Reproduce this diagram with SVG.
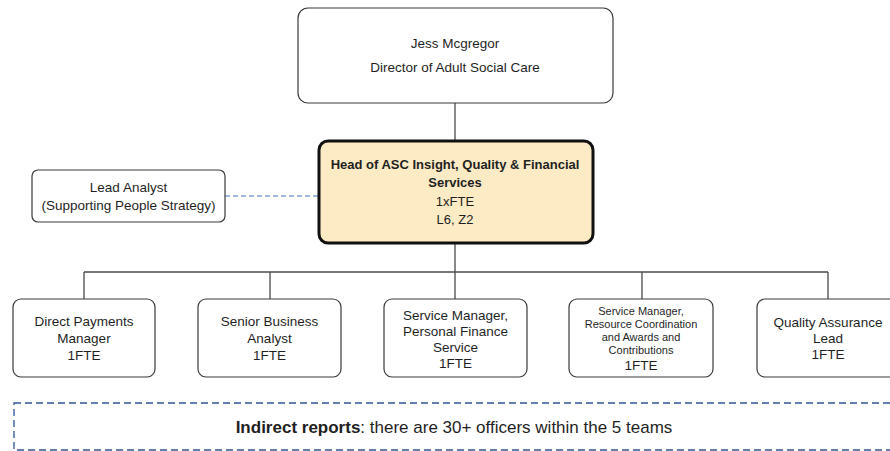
<svg xmlns="http://www.w3.org/2000/svg" width="890" height="451" viewBox="0 0 890 451">
  <style>
    .box { fill: #ffffff; stroke: #3a3a3a; stroke-width: 1.2; }
    .head { fill: #fdebc6; stroke: #111111; stroke-width: 3; }
    .t { font-family: "Liberation Sans", Arial, sans-serif; font-size: 13.5px; fill: #1f1f1f; text-anchor: middle; }
    .b { font-weight: bold; }
    .s { font-size: 11px; }
    .m { font-size: 13px; }
    .l { font-size: 17px; }
    .link { stroke: #4a4a4a; stroke-width: 1.3; fill: none; }
    .dotted { stroke: #4472c4; stroke-width: 1.2; stroke-dasharray: 5 3; fill: none; }
    .frame { fill: none; stroke: #2f5597; stroke-width: 1.3; stroke-dasharray: 7 4; }
  </style>

  <!-- reporting lines -->
  <g id="connectors">
    <path class="link" d="M455 103 V141"/>
    <path class="link" d="M455 243 V272"/>
    <path class="link" d="M84 272 H828"/>
    <path class="link" d="M84 272 V299"/>
    <path class="link" d="M270 272 V299"/>
    <path class="link" d="M455 272 V299"/>
    <path class="link" d="M642 272 V299"/>
    <path class="link" d="M828 272 V299"/>
    <path class="dotted" d="M225 196 H318"/>
  </g>

  <g id="director">
    <rect class="box" x="298" y="8" width="315" height="95" rx="10"/>
    <text class="t" x="455" y="48">Jess Mcgregor</text>
    <text class="t" x="455" y="72">Director of Adult Social Care</text>
  </g>

  <g id="head">
    <rect class="head" x="319" y="141" width="274" height="102" rx="9"/>
    <text class="t b m" x="455" y="169">Head of ASC Insight, Quality &amp; Financial</text>
    <text class="t b m" x="455" y="187">Services</text>
    <text class="t m" x="455" y="206">1xFTE</text>
    <text class="t m" x="455" y="224">L6, Z2</text>
  </g>

  <g id="lead-analyst">
    <rect class="box" x="32" y="170" width="193" height="52" rx="6"/>
    <text class="t" x="128.5" y="192">Lead Analyst</text>
    <text class="t" x="128.5" y="210">(Supporting People Strategy)</text>
  </g>

  <g id="direct-payments">
    <rect class="box" x="13" y="299" width="142" height="78" rx="8"/>
    <text class="t" x="84" y="326">Direct Payments</text>
    <text class="t" x="84" y="343">Manager</text>
    <text class="t" x="84" y="360">1FTE</text>
  </g>

  <g id="business-analyst">
    <rect class="box" x="198" y="299" width="143" height="78" rx="8"/>
    <text class="t" x="269.5" y="326">Senior Business</text>
    <text class="t" x="269.5" y="343">Analyst</text>
    <text class="t" x="269.5" y="360">1FTE</text>
  </g>

  <g id="personal-finance">
    <rect class="box" x="384" y="299" width="143" height="78" rx="8"/>
    <text class="t" x="455.5" y="320">Service Manager,</text>
    <text class="t" x="455.5" y="336">Personal Finance</text>
    <text class="t" x="455.5" y="352">Service</text>
    <text class="t" x="455.5" y="368">1FTE</text>
  </g>

  <g id="resource-coordination">
    <rect class="box" x="569" y="299" width="144" height="78" rx="8"/>
    <text class="t s" x="641" y="315">Service Manager,</text>
    <text class="t s" x="641" y="328">Resource Coordination</text>
    <text class="t s" x="641" y="341">and Awards and</text>
    <text class="t s" x="641" y="354">Contributions</text>
    <text class="t" x="641" y="370">1FTE</text>
  </g>

  <g id="quality-assurance">
    <rect class="box" x="757" y="299" width="143" height="78" rx="8"/>
    <text class="t" x="828" y="327">Quality Assurance</text>
    <text class="t" x="828" y="343">Lead</text>
    <text class="t" x="828" y="359">1FTE</text>
  </g>

  <g id="indirect-reports">
    <rect class="frame" x="14" y="403" width="900" height="47"/>
    <text class="t l" x="454" y="433"><tspan class="b">Indirect reports</tspan>: there are 30+ officers within the 5 teams</text>
  </g>
</svg>
